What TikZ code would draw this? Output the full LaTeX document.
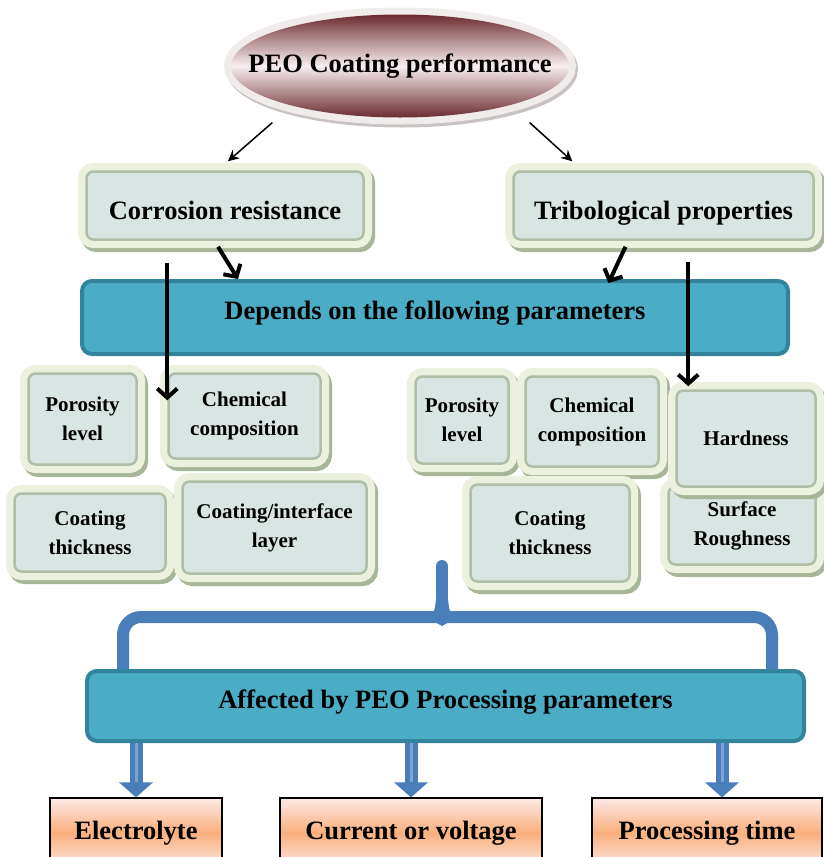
\documentclass[tikz,border=0pt]{standalone}
\usepackage{fontspec}
\setmainfont{Liberation Serif}
\usepackage{tikz}
\usetikzlibrary{arrows.meta,backgrounds,calc,positioning,shapes.geometric}

\definecolor{framecream}{HTML}{EBF1DE}
\definecolor{frameshade}{HTML}{A7B598}
\definecolor{parfill}{HTML}{D9E5E2}
\definecolor{parline}{HTML}{AFBEA7}
\definecolor{tealfill}{HTML}{4BACC6}
\definecolor{tealline}{HTML}{31849B}
\definecolor{bracecol}{HTML}{4A7EBB}
\definecolor{bracelight}{HTML}{7DA3D3}
\definecolor{peodark}{HTML}{6B2B30}
\definecolor{peolight}{HTML}{F8EEF0}
\definecolor{peorim}{HTML}{F1ECEC}
\definecolor{peoshade}{HTML}{C9C2C3}
\definecolor{facpink}{HTML}{FDE9E6}
\definecolor{facorange}{HTML}{F9AF7C}

\begin{document}
\begin{tikzpicture}[x=1pt, y=-1pt,
		bigtext/.style = {font=\fontsize{26.5}{30}\selectfont\bfseries},
		smalltext/.style = {font=\fontsize{21}{29}\selectfont\bfseries},
		parbox/.style = {rectangle, rounded corners=7pt, align=center, inner sep=0pt, fill=parfill, draw=parline, line width=2.5pt, smalltext,
				preaction={draw=frameshade, line width=17pt, transform canvas={xshift=3pt,yshift=-4pt}},
				preaction={draw=framecream, line width=17pt}},
		headbox/.style = {parbox, bigtext, text height=27pt, text depth=0pt},
		tealbox/.style = {rectangle, rounded corners=10pt, fill=tealfill, draw=tealline, line width=4pt, bigtext, text height=19pt, text depth=15pt},
		factor/.style = {rectangle, draw=black, line width=1.2pt, top color=facpink, bottom color=facpink, middle color=facorange, bigtext, minimum height=70pt},
		thinarrow/.style = {line width=1.5pt, -{Stealth[length=11pt,width=11pt]}},
		thickarrow/.style = {line width=4pt, -{Straight Barb[length=9pt,width=20pt]}},
		brace/.style = {draw=bracecol, line width=12pt},
		procarrow/.style = {draw=bracecol, line width=13pt, -{Triangle[length=15pt,width=33pt]}, postaction={draw=bracelight, line width=3pt, -, shorten >=15pt}},
	]
	\useasboundingbox (0,0) rectangle (824,857);

	\node [ellipse, minimum width=338pt, minimum height=103pt, inner xsep=-34pt, inner ysep=0pt, top color=peodark, bottom color=peodark, middle color=peolight,
		preaction={draw=peoshade, line width=14pt, transform canvas={xshift=2pt,yshift=-3pt}},
		preaction={draw=peorim, line width=14pt}, bigtext] (peo) at (400,66) {PEO Coating performance};

	\node [headbox, minimum width=277pt, minimum height=68pt] (corr) at (225,205.5) {Corrosion resistance};
	\node [headbox, minimum width=300pt, minimum height=68pt] (trib) at (663.5,205.5) {Tribological properties};

	\node [tealbox, minimum width=706pt, minimum height=73pt] (dep) at (435,317.5) {Depends on the following parameters};

	% corrosion side
	\node [parbox, minimum width=108pt, minimum height=91pt] (lpor) at (82.5,419) {Porosity\\level};
	\node [parbox, minimum width=152pt, minimum height=85pt] (lchem) at (244.5,416) {Chemical\\composition};
	\node [parbox, minimum width=151pt, minimum height=78pt] (lthick) at (90,532.5) {Coating\\thickness};
	\node [parbox, minimum width=184pt, minimum height=92pt] (liface) at (274.5,527.5) {Coating/interface\\layer};

	% tribology side
	\node [parbox, minimum width=93pt, minimum height=87pt] (rpor) at (462,420) {Porosity\\level};
	\node [parbox, minimum width=133pt, minimum height=90pt] (rchem) at (592,421.5) {Chemical\\composition};
	\node [parbox, minimum width=159pt, minimum height=97pt] (rthick) at (550,533) {Coating\\thickness};
	\node [parbox, minimum width=147pt, minimum height=78pt] (rrough) at (742,525.5) {Surface\\Roughness};
	\node [parbox, minimum width=139pt, minimum height=96pt] (rhard) at (746,438.5) {Hardness};

	\node [tealbox, minimum width=717pt, minimum height=70pt] (aff) at (445.5,706) {Affected by PEO Processing parameters};

	\node [factor, minimum width=172pt] (elec) at (136,833) {Electrolyte};
	\node [factor, minimum width=262pt] (curr) at (411,833) {Current or voltage};
	\node [factor, minimum width=230pt] (ptime) at (707,833) {Processing time};

	\draw [thinarrow] ([xshift=-8pt,yshift=-20pt]peo.south west) -- ([xshift=3pt,yshift=9pt]corr.north);
	\draw [thinarrow] ([xshift=10pt,yshift=-20pt]peo.south east) -- ([xshift=60pt,yshift=9pt]trib.north west);

	\draw [thickarrow] ([xshift=-7pt,yshift=-6pt]corr.south) -- ($(corr.south |- dep.north)+(13,0)$);
	\draw [thickarrow] ([xshift=-38pt,yshift=-6pt]trib.south) -- ($(trib.south |- dep.north)+(-55,4)$);
	\draw [thickarrow] ($(lchem.west |- dep.north)+(0,-16)$) -- ([yshift=-28pt]lchem.north west);
	\draw [thickarrow] ($(rhard.north west |- dep.north)+(13,-17)$) -- ([xshift=13pt,yshift=3pt]rhard.north west);

	\coordinate (stem) at (442,566);
	\coordinate (brmid) at (442,617);
	\begin{scope}[on background layer]
		\draw [brace, rounded corners=18pt] ([xshift=38pt,yshift=-4pt]aff.north west) |- (brmid) -| ([xshift=-34pt,yshift=-4pt]aff.north east);
		\draw [brace, line cap=round] (stem) -- (brmid);
		\fill [bracecol] ([xshift=-16pt]brmid) .. controls ([xshift=-7pt]brmid) and ([xshift=-7pt,yshift=10pt]brmid) .. ([xshift=-6pt,yshift=18pt]brmid)
			-- ([xshift=6pt,yshift=18pt]brmid) .. controls ([xshift=7pt,yshift=10pt]brmid) and ([xshift=7pt]brmid) .. ([xshift=16pt]brmid)
			-- ([yshift=-9pt]brmid) -- cycle;
	\end{scope}

	\draw [procarrow] (aff.south -| elec.north) -- (elec.north);
	\draw [procarrow] (aff.south -| curr.north) -- (curr.north);
	\draw [procarrow] ($(aff.south -| ptime.north)+(15,0)$) -- ([xshift=15pt]ptime.north);
\end{tikzpicture}
\end{document}
